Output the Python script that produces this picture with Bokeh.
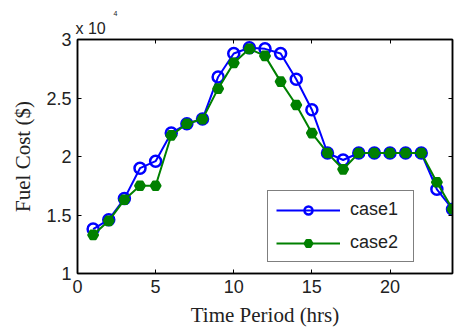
from bokeh.plotting import figure
from bokeh.models import LinearAxis, Range1d, FixedTicker, Legend, LegendItem, Title
from bokeh.embed import file_html
from bokeh.resources import INLINE

hours = list(range(1, 25))
case1 = [1.38, 1.46, 1.64, 1.90, 1.96, 2.20, 2.28, 2.32, 2.68, 2.88, 2.93, 2.92,
         2.88, 2.66, 2.40, 2.03, 1.97, 2.03, 2.03, 2.03, 2.03, 2.03, 1.72, 1.55]
case2 = [1.33, 1.45, 1.63, 1.75, 1.75, 2.18, 2.28, 2.32, 2.58, 2.80, 2.92, 2.86,
         2.64, 2.44, 2.20, 2.03, 1.89, 2.03, 2.03, 2.03, 2.03, 2.03, 1.78, 1.55]
x_ticks = [0, 5, 10, 15, 20]
y_ticks = [1, 1.5, 2, 2.5, 3]
series_names = ["case1", "case2"]

W, H = 456, 332
p = figure(width=W, height=H, output_backend="svg", toolbar_location=None,
           x_range=Range1d(0, 24), y_range=Range1d(1, 3),
           min_border_left=77, min_border_right=4, min_border_top=39, min_border_bottom=59)
p.xgrid.visible = False
p.ygrid.visible = False
p.outline_line_color = "black"
p.outline_line_width = 1.5

tick_font = "Liberation Sans"
for ax in (p.xaxis[0], p.yaxis[0]):
    ax.major_tick_in = 4
    ax.major_tick_out = 0
    ax.minor_tick_in = 0
    ax.minor_tick_out = 0
    ax.axis_line_width = 1.5
    ax.major_label_text_font = tick_font
    ax.major_label_text_font_size = "18px"
    ax.major_label_text_color = "#222222"
    ax.axis_label_text_font = "Liberation Serif"
    ax.axis_label_text_font_size = "21px"
    ax.axis_label_text_font_style = "normal"
    ax.axis_label_text_color = "#222222"
p.xaxis[0].ticker = FixedTicker(ticks=x_ticks)
p.yaxis[0].ticker = FixedTicker(ticks=y_ticks)
p.xaxis[0].major_label_overrides = {v: str(v) for v in x_ticks}
p.yaxis[0].major_label_overrides = {1: "1", 1.5: "1.5", 2: "2", 2.5: "2.5", 3: "3"}
p.xaxis[0].axis_label = "Time Period (hrs)"
p.yaxis[0].axis_label = "Fuel Cost ($)"
p.xaxis[0].major_label_standoff = 6
p.yaxis[0].major_label_standoff = 6
p.xaxis[0].axis_label_standoff = 7
p.yaxis[0].axis_label_standoff = 8

top = LinearAxis(ticker=FixedTicker(ticks=x_ticks), major_tick_in=4, major_tick_out=0,
                 minor_tick_in=0, minor_tick_out=0, major_label_text_font_size="1px",
                 major_label_text_color=None, major_label_standoff=0, axis_line_width=1.5)
right = LinearAxis(ticker=FixedTicker(ticks=y_ticks), major_tick_in=4, major_tick_out=0,
                   minor_tick_in=0, minor_tick_out=0, major_label_text_font_size="1px",
                   major_label_text_color=None, major_label_standoff=0, axis_line_width=1.5)
p.add_layout(top, "above")
p.add_layout(right, "right")

l1 = p.line(hours, case1, line_color="blue", line_width=2)
m1 = p.scatter(hours, case1, marker="circle", size=11, fill_color="white", fill_alpha=0,
               line_color="blue", line_width=2.5)
l2 = p.line(hours, case2, line_color="green", line_width=2)
m2 = p.scatter(hours, case2, marker="hex", size=10, fill_color="green", line_color="green",
               line_width=2)

legend = Legend(items=[LegendItem(label=series_names[0], renderers=[l1, m1]),
                       LegendItem(label=series_names[1], renderers=[l2, m2])],
                location=(190, 11), border_line_color="black", border_line_width=1.5,
                label_text_font=tick_font, label_text_font_size="18px",
                label_text_color="#222222",
                glyph_width=64, glyph_height=20, label_height=20, label_width=55,
                spacing=12, padding=8, margin=0,
                label_standoff=10, background_fill_alpha=1)
p.add_layout(legend, "center")

p.add_layout(Title(text="x 10", align="left", offset=-2, text_font=tick_font,
                   text_font_size="16px", text_font_style="normal",
                   text_color="#222222", standoff=5), "above")
p.add_layout(Title(text="4", align="left", offset=36, text_font=tick_font,
                   text_font_size="7px", text_font_style="normal",
                   text_color="#222222", standoff=0), "above")

open("out.html", "w").write(file_html(p, INLINE))
